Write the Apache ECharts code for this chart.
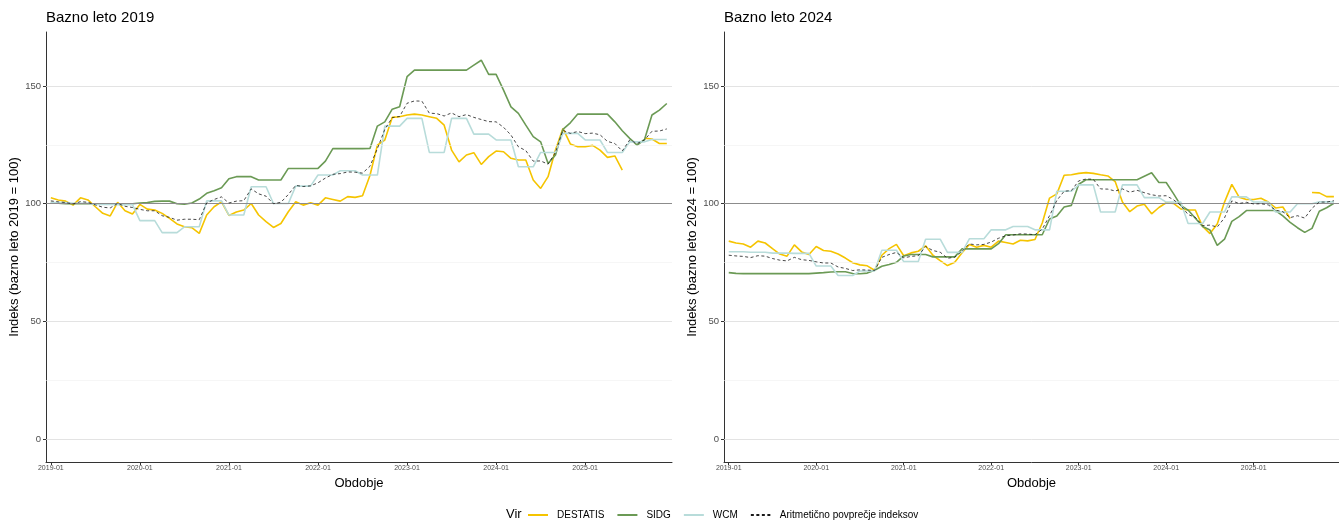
<!DOCTYPE html>
<html><head><meta charset="utf-8">
<script src="https://cdn.jsdelivr.net/npm/echarts@6/dist/echarts.min.js"></script>
<style>html,body{margin:0;padding:0;background:#fff}#c{width:1339px;height:522px}</style>
</head><body><div id="c"></div>
<script>
// x tick positions (month index from 2019-01) and labels
const xTickMonths = [0, 12, 24, 36, 48, 60, 72];
const xTickLabels = ['2019-01', '2020-01', '2021-01', '2022-01', '2023-01', '2024-01', '2025-01'];
const yTickValues = [0, 50, 100, 150];
const yMajorGrid = [0, 50, 150];
const yMinorGrid = [25, 75, 125];
const baseLine = 100;

// Base year 2019 (monthly, 2019-01 .. 2025-12)
const destatis2019 = [102.5,101.6,101.1,99.4,102.5,101.6,98.7,95.9,94.8,100.6,97.0,95.6,
 99.7,97.7,97.3,95.9,93.8,91.4,90.2,89.8,87.4,95.2,98.7,100.8,
 95.0,96.5,97.3,100.1,95.2,92.4,89.9,91.6,96.6,100.8,99.4,100.4,
 99.4,102.5,101.8,101.1,103.0,102.7,103.4,112.0,124.9,127.1,136.7,137.0,
 137.7,138.1,137.7,137.0,136.3,133.4,122.8,117.8,120.7,121.7,116.7,120.0,
 122.4,122.1,119.3,118.6,118.6,110.1,106.5,111.5,122.8,132.0,125.4,124.2,
 124.2,124.8,122.8,119.7,120.3,114.3,null,null,127.8,127.5,125.6,125.6];
const sidg2019 = [100.5,100.2,100,100,100,100,100,100,100,100,100,100,
 100.3,100.5,101.0,101.1,101.1,100,99.8,100.3,102.0,104.4,105.5,106.8,
 110.6,111.5,111.5,111.5,110.1,110.1,110.1,110.1,115.0,115.0,115.0,115.0,
 115.0,118.1,123.4,123.4,123.4,123.4,123.4,123.5,133.0,134.8,140.2,141.2,
 154.0,156.8,156.8,156.8,156.8,156.8,156.8,156.8,156.8,158.9,161.0,155.0,
 155.0,148.3,141.2,138.4,133.4,128.5,126.3,117.1,120.7,131.6,134.4,138.1,
 138.1,138.1,138.1,138.1,134.8,131.0,127.8,124.9,127.3,137.7,139.8,142.6];
const wcm2019 = [100.5,100.5,100.5,100.2,100.2,100.2,99.7,99.7,99.7,99.6,99.6,99.6,
 92.8,92.8,92.8,87.7,87.7,87.7,90.2,90.2,90.2,101.2,101.2,101.2,
 95.2,95.2,95.2,107.2,107.2,107.2,100.1,100.1,100.1,107.5,107.5,107.5,
 112.2,112.2,112.2,114.0,114.0,114.0,112.2,112.2,112.2,133.0,133.0,133.0,
 136.3,136.3,136.3,121.8,121.8,121.8,136.3,136.3,136.3,129.6,129.6,129.6,
 127.1,127.1,127.1,115.7,115.7,115.7,121.8,121.8,121.8,129.9,129.9,129.9,
 127.1,127.1,127.1,121.8,121.8,121.8,126.3,126.3,126.3,127.3,127.3,127.3];
const mean2019 = [101.2,100.8,100.5,99.9,100.9,100.6,99.5,98.5,98.2,100.1,98.9,98.4,
 97.6,97.0,97.0,94.9,94.2,93.0,93.4,93.4,93.2,100.3,101.8,102.9,
 100.3,101.1,101.3,106.3,104.2,103.2,100.0,100.6,103.9,107.8,107.3,107.6,
 108.9,110.9,112.5,112.8,113.5,113.4,113.0,115.9,123.4,131.6,136.6,137.1,
 142.7,143.7,143.6,138.5,138.3,137.3,138.6,137.0,137.9,136.7,135.8,134.9,
 134.8,132.5,129.2,124.2,122.6,118.1,118.2,116.8,121.8,131.2,129.9,130.7,
 129.8,130.0,129.3,126.5,125.6,122.4,127.1,125.6,127.1,130.8,130.9,131.8];

// Base year 2024
const destatis2024 = [84.1,83.3,82.9,81.5,84.1,83.3,80.9,78.6,77.7,82.5,79.5,78.4,
 81.8,80.1,79.8,78.6,76.9,74.9,74.0,73.6,71.7,78.1,80.9,82.7,
 77.9,79.1,79.8,82.1,78.1,75.8,73.7,75.1,79.2,82.7,81.5,82.3,
 81.5,84.1,83.5,82.9,84.5,84.2,84.8,91.8,102.4,104.2,112.1,112.3,
 112.9,113.2,112.9,112.3,111.8,109.4,100.7,96.6,99.0,99.8,95.7,98.4,
 100.4,100.1,97.8,97.3,97.3,90.3,87.3,91.4,100.7,108.2,102.8,101.8,
 101.8,102.3,100.7,98.2,98.6,93.7,null,null,104.8,104.6,103.0,103.0];
const sidg2024 = [70.7,70.4,70.3,70.3,70.3,70.3,70.3,70.3,70.3,70.3,70.3,70.3,
 70.5,70.7,71.0,71.1,71.1,70.3,70.2,70.5,71.7,73.4,74.2,75.1,
 77.8,78.4,78.4,78.4,77.4,77.4,77.4,77.4,80.8,80.8,80.8,80.8,
 80.8,83.0,86.8,86.8,86.8,86.8,86.8,86.8,93.5,94.8,98.6,99.3,
 108.3,110.2,110.2,110.2,110.2,110.2,110.2,110.2,110.2,111.7,113.2,109.0,
 109.0,104.3,99.3,97.3,93.8,90.3,88.8,82.3,84.9,92.5,94.5,97.1,
 97.1,97.1,97.1,97.1,94.8,92.1,89.8,87.8,89.5,96.8,98.3,100.2];
const wcm2024 = [79.6,79.6,79.6,79.4,79.4,79.4,79.0,79.0,79.0,78.9,78.9,78.9,
 73.5,73.5,73.5,69.5,69.5,69.5,71.4,71.4,71.4,80.2,80.2,80.2,
 75.4,75.4,75.4,84.9,84.9,84.9,79.3,79.3,79.3,85.1,85.1,85.1,
 88.9,88.9,88.9,90.3,90.3,90.3,88.9,88.9,88.9,105.3,105.3,105.3,
 108.0,108.0,108.0,96.5,96.5,96.5,108.0,108.0,108.0,102.6,102.6,102.6,
 100.7,100.7,100.7,91.6,91.6,91.6,96.5,96.5,96.5,102.9,102.9,102.9,
 100.7,100.7,100.7,96.5,96.5,96.5,100.0,100.0,100.0,100.8,100.8,100.8];
const mean2024 = [78.1,77.8,77.6,77.1,77.9,77.7,76.7,76.0,75.7,77.2,76.2,75.9,
 75.3,74.8,74.8,73.1,72.5,71.6,71.9,71.8,71.6,77.2,78.4,79.3,
 77.0,77.6,77.9,81.8,80.1,79.4,76.8,77.3,79.8,82.9,82.5,82.7,
 83.7,85.3,86.4,86.7,87.2,87.1,86.8,89.2,94.9,101.4,105.3,105.6,
 109.7,110.5,110.4,106.3,106.2,105.4,106.3,104.9,105.7,104.7,103.8,103.3,
 103.4,101.7,99.3,95.4,94.2,90.7,90.9,90.1,94.0,101.2,100.1,100.6,
 99.9,100.0,99.5,97.3,96.6,94.1,94.9,93.9,98.1,100.7,100.7,101.3];

const FONT = '"Liberation Sans", Arial, sans-serif';
const COLORS = { DESTATIS: '#F5C400', SIDG: '#6B9A55', WCM: '#B8DCDA', MEAN: '#1a1a1a' };
const MEAN_NAME = 'Aritmetično povprečje indeksov';

function pts(arr) { return arr.map((v, i) => [i, v]); }

function xAxis(gi) {
  return {
    type: 'value', gridIndex: gi, min: -0.65, max: 83.7,
    name: 'Obdobje', nameLocation: 'middle', nameGap: 9,
    nameTextStyle: { fontFamily: FONT, fontSize: 13, color: '#000' },
    axisLine: { show: true, onZero: false, lineStyle: { color: '#333', width: 1 } },
    axisTick: { show: true, length: 3, customValues: xTickMonths, lineStyle: { color: '#333' } },
    axisLabel: { show: true, customValues: xTickMonths, margin: 3, fontFamily: FONT, fontSize: 7, color: '#4d4d4d',
      formatter: v => xTickLabels[xTickMonths.indexOf(v)] || '' },
    splitLine: { show: false }
  };
}
function yAxis(gi, base) {
  return {
    type: 'value', gridIndex: gi, min: -9.8, max: 173,
    name: 'Indeks (bazno leto ' + base + ' = 100)', nameLocation: 'middle', nameGap: 24,
    nameTextStyle: { fontFamily: FONT, fontSize: 13, color: '#000' },
    axisLine: { show: true, onZero: false, lineStyle: { color: '#333', width: 1 } },
    axisTick: { show: true, length: 3, customValues: yTickValues, lineStyle: { color: '#333' } },
    axisLabel: { show: true, customValues: yTickValues, margin: 5, fontFamily: FONT, fontSize: 9.5, color: '#4d4d4d' },
    splitLine: { show: false }
  };
}
function gridLines(gi) {
  const d = [];
  yMinorGrid.forEach(v => d.push({ yAxis: v, lineStyle: { color: '#f0f0f0', width: 0.6, type: 'solid' } }));
  yMajorGrid.forEach(v => d.push({ yAxis: v, lineStyle: { color: '#dcdcdc', width: 0.8, type: 'solid' } }));
  d.push({ yAxis: baseLine, lineStyle: { color: '#8c8c8c', width: 1.2, type: 'solid' } });
  return { type: 'line', xAxisIndex: gi, yAxisIndex: gi, data: [], z: 1, silent: true,
    markLine: { silent: true, symbol: ['none', 'none'], label: { show: false }, animation: false, data: d } };
}
function lineSeries(name, gi, arr, color, width, dashed) {
  return { name, type: 'line', xAxisIndex: gi, yAxisIndex: gi, data: pts(arr), symbol: 'none', showSymbol: false,
    connectNulls: false, z: dashed ? 5 : 3,
    lineStyle: { color, width, type: dashed ? [3, 2.5] : 'solid' }, itemStyle: { color } };
}

const chart = echarts.init(document.getElementById('c'), null, { renderer: 'canvas' });
chart.setOption({
  animation: false,
  backgroundColor: '#fff',
  title: [
    { text: 'Bazno leto 2019', left: 46, top: 10, padding: 0, textStyle: { fontFamily: FONT, fontSize: 15, fontWeight: 'normal', color: '#000' } },
    { text: 'Bazno leto 2024', left: 724, top: 10, padding: 0, textStyle: { fontFamily: FONT, fontSize: 15, fontWeight: 'normal', color: '#000' } }
  ],
  grid: [
    { left: 46, top: 32, width: 626, height: 430 },
    { left: 724, top: 32, width: 626, height: 430 }
  ],
  xAxis: [xAxis(0), xAxis(1)],
  yAxis: [yAxis(0, 2019), yAxis(1, 2024)],
  legend: {
    left: 527, top: 510, itemWidth: 20, itemHeight: 10, itemGap: 12, padding: 0,
    itemStyle: { opacity: 0 },
    textStyle: { fontFamily: FONT, fontSize: 10, color: '#000', padding: [0, 0, 0, 4] },
    data: ['DESTATIS', 'SIDG', 'WCM', MEAN_NAME]
  },
  graphic: [{ type: 'text', left: 506, top: 508, style: { text: 'Vir', fontFamily: FONT, fontSize: 13, fill: '#000' } }],
  series: [
    gridLines(0), gridLines(1),
    lineSeries('DESTATIS', 0, destatis2019, COLORS.DESTATIS, 1.6),
    lineSeries('SIDG', 0, sidg2019, COLORS.SIDG, 1.6),
    lineSeries('WCM', 0, wcm2019, COLORS.WCM, 1.6),
    lineSeries(MEAN_NAME, 0, mean2019, COLORS.MEAN, 0.8, true),
    lineSeries('DESTATIS', 1, destatis2024, COLORS.DESTATIS, 1.6),
    lineSeries('SIDG', 1, sidg2024, COLORS.SIDG, 1.6),
    lineSeries('WCM', 1, wcm2024, COLORS.WCM, 1.6),
    lineSeries(MEAN_NAME, 1, mean2024, COLORS.MEAN, 0.8, true)
  ]
});
</script></body></html>
